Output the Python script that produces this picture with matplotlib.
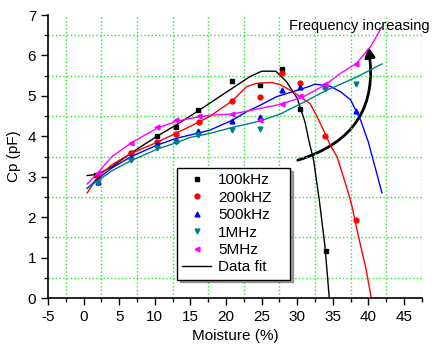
import numpy as np
import matplotlib
matplotlib.use('Agg')
import matplotlib.pyplot as plt
from matplotlib.patches import FancyArrowPatch
from matplotlib.ticker import MultipleLocator

plt.rcParams['font.family'] = ['Liberation Sans', 'DejaVu Sans']
plt.rcParams['font.size'] = 11
plt.rcParams['axes.unicode_minus'] = False

# measured points
x_100k = [1.8, 6.7, 10.3, 13.0, 16.1, 20.9, 24.8, 27.9, 30.4, 34.0]
y_100k = [3.05, 3.58, 4.0, 4.22, 4.65, 5.38, 5.27, 5.66, 4.67, 1.17]
x_200k = [2.0, 6.7, 10.3, 13.0, 16.2, 20.9, 24.8, 27.9, 30.4, 33.9, 38.3]
y_200k = [3.0, 3.58, 3.87, 4.06, 4.35, 4.88, 4.96, 5.56, 5.33, 4.0, 1.94]
x_500k = [2.0, 6.7, 10.3, 13.0, 16.1, 20.9, 24.8, 27.9, 30.4, 33.9, 38.3]
y_500k = [2.88, 3.5, 3.82, 3.92, 4.12, 4.38, 4.48, 5.14, 5.23, 5.25, 4.63]
x_1M = [2.0, 6.7, 10.3, 13.0, 16.1, 20.9, 24.8, 33.9, 38.3]
y_1M = [2.85, 3.41, 3.70, 3.87, 4.03, 4.15, 4.18, 5.18, 5.29]
x_5M = [2.0, 6.7, 10.3, 13.0, 16.2, 20.9, 24.8, 27.9, 30.4, 33.9, 38.3]
y_5M = [3.1, 3.84, 4.22, 4.41, 4.51, 4.55, 4.4, 4.79, 5.0, 5.29, 5.78]

# fitted curves
fx_100k = [0.5, 2.0, 4.0, 6.7, 10.3, 13.0, 16.1, 19.6, 23.4, 25.0, 27.0, 28.5, 30.0, 31.1, 31.6, 32.3, 33.1, 33.9, 34.5]
fy_100k = [3.03, 3.06, 3.25, 3.59, 4.0, 4.28, 4.63, 5.04, 5.48, 5.61, 5.61, 5.35, 4.94, 4.35, 3.92, 3.41, 2.42, 1.27, 0.0]
fx_200k = [0.5, 2.0, 4.0, 6.7, 10.3, 13.0, 14.9, 17.7, 20.9, 22.9, 24.3, 26.4, 27.6, 29.0, 30.4, 31.8, 32.8, 33.7, 34.6, 35.6, 37.2, 37.7, 38.6, 39.6, 40.4]
fy_200k = [2.6, 3.0, 3.3, 3.58, 3.85, 4.08, 4.24, 4.49, 4.88, 5.23, 5.31, 5.33, 5.28, 5.14, 4.98, 4.81, 4.48, 4.15, 3.8, 3.49, 2.59, 2.26, 1.52, 0.77, 0.0]
fx_500k = [0.5, 2.0, 4.0, 6.7, 10.3, 13.0, 14.9, 17.7, 20.9, 22.9, 24.8, 27.1, 29.5, 31.8, 32.5, 34.6, 36.1, 37.5, 38.9, 40.0, 41.9]
fy_500k = [2.71, 2.95, 3.22, 3.5, 3.78, 3.95, 4.03, 4.15, 4.4, 4.61, 4.77, 4.98, 5.11, 5.24, 5.29, 5.24, 5.1, 4.9, 4.4, 3.85, 2.6]
fx_1M = [0.5, 2.0, 4.0, 6.7, 10.3, 13.0, 14.9, 17.7, 20.9, 24.8, 27.6, 31.0, 33.9, 38.4, 41.9]
fy_1M = [2.72, 2.9, 3.15, 3.4, 3.68, 3.84, 3.97, 4.07, 4.22, 4.38, 4.55, 4.85, 5.12, 5.47, 5.79]
fx_5M = [0.5, 2.0, 4.0, 6.7, 10.3, 13.0, 14.9, 17.7, 20.9, 24.8, 27.6, 30.9, 33.9, 36.1, 38.3, 40.3, 41.9]
fy_5M = [2.82, 3.1, 3.5, 3.84, 4.2, 4.37, 4.44, 4.52, 4.55, 4.69, 4.79, 4.98, 5.27, 5.56, 5.8, 6.22, 6.71]

series = [
    ('100kHz', x_100k, y_100k, fx_100k, fy_100k, 'black', 's'),
    ('200kHZ', x_200k, y_200k, fx_200k, fy_200k, 'red', 'o'),
    ('500kHz', x_500k, y_500k, fx_500k, fy_500k, 'blue', '^'),
    ('1MHz', x_1M, y_1M, fx_1M, fy_1M, '#008080', 'v'),
    ('5MHz', x_5M, y_5M, fx_5M, fy_5M, 'magenta', '<'),
]

fig = plt.figure(figsize=(4.34, 3.49), dpi=100)
ax = fig.add_axes([0.1106, 0.146, 0.8614, 0.811])

handles = []
for name, x, y, fx, fy, c, m in series:
    ax.plot(fx, fy, color=c, lw=1.0)
    h, = ax.plot(x, y, ls='none', marker=m, color=c, ms=3.5, label=name)
    handles.append(h)
fit_h, = ax.plot([], [], color='black', lw=1.0, label='Data fit')
handles.append(fit_h)

ax.set_xlim(-5, 47.5)
ax.set_ylim(0, 7)
ax.xaxis.set_major_locator(MultipleLocator(5))
ax.xaxis.set_minor_locator(MultipleLocator(2.5))
ax.yaxis.set_major_locator(MultipleLocator(1))
ax.yaxis.set_minor_locator(MultipleLocator(0.5))
ax.tick_params(which='major', direction='out', length=5, width=1, labelsize=11)
ax.tick_params(which='minor', direction='out', length=3, width=1)
ax.grid(which='minor', color='#22ee22', linestyle=':', linewidth=1)
ax.grid(which='major', visible=False)
ax.spines['top'].set_visible(False)
ax.spines['right'].set_visible(False)
for s in ('left', 'bottom'):
    ax.spines[s].set_linewidth(1.2)

ax.set_xlabel('Moisture (%)', labelpad=4)
ax.set_ylabel('Cp (pF)', labelpad=5)

leg = ax.legend(handles=handles, loc='upper left', bbox_to_anchor=(0.345, 0.071, 0.302, 0.388),
                mode='expand', frameon=True, fancybox=False, shadow=True, borderaxespad=0,
                handlelength=1.9, labelspacing=0.22, fontsize=11, borderpad=0.35,
                handletextpad=0.45)
leg.get_frame().set_edgecolor('black')
leg.get_frame().set_linewidth(1.0)

fig.text(0.99, 0.925, 'Frequency increasing', ha='right', va='center', fontsize=10.5)

arr = FancyArrowPatch((29.7, 3.39), (39.9, 6.28), connectionstyle='arc3,rad=0.45',
                      arrowstyle='-|>,head_length=6,head_width=3', color='black', lw=2.0,
                      mutation_scale=1)
ax.add_patch(arr)

fig.savefig('out.png', dpi=100)
